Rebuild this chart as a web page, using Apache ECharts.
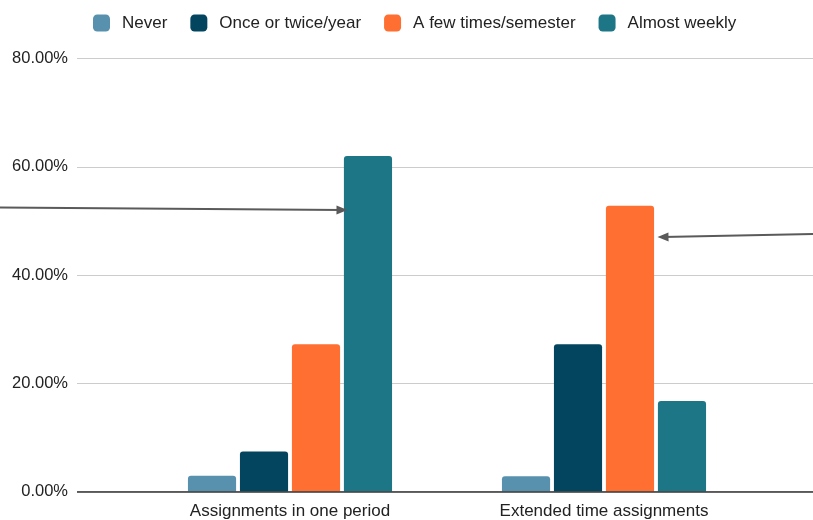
<!DOCTYPE html>
<html>
<head>
<meta charset="utf-8">
<script src="https://cdn.jsdelivr.net/npm/echarts@6/dist/echarts.min.js"></script>
<style>
  html, body { margin: 0; padding: 0; background: #fff; }
  #chart { width: 813px; height: 520px; }
</style>
</head>
<body>
<div id="chart"></div>
<script>
// Survey: how often each kind of assignment is given
const categories = ['Assignments in one period', 'Extended time assignments'];
const seriesNames = ['Never', 'Once or twice/year', 'A few times/semester', 'Almost weekly'];
const never = [2.9, 2.8];
const onceOrTwice = [7.4, 27.2];
const fewTimes = [27.2, 52.8];
const almostWeekly = [62.0, 16.7];
const yTicks = [0, 20, 40, 60, 80];

const colors = ['#5891ae', '#03455f', '#ff6f31', '#1d7685'];
const values = [never, onceOrTwice, fewTimes, almostWeekly];
const FONT = '"Liberation Sans", Arial, sans-serif';

const plotTop = 58.5;
const plotHeight = 433;

const chart = echarts.init(document.getElementById('chart'), null, { renderer: 'canvas' });

const barSeries = seriesNames.map((name, i) => ({
  name,
  type: 'bar',
  xAxisIndex: 1,
  yAxisIndex: 1,
  data: values[i],
  barGap: '8%',
  barCategoryGap: '35%',
  itemStyle: { color: colors[i], borderRadius: [3, 3, 0, 0] },
  emphasis: { disabled: true }
}));

chart.setOption({
  animation: false,
  color: colors,
  legend: {
    top: 9.5,
    left: 88,
    itemWidth: 17,
    itemHeight: 17,
    itemGap: 23,
    icon: 'roundRect',
    data: seriesNames,
    textStyle: { fontFamily: FONT, fontSize: 17, color: '#222', padding: [0, 0, 0, 7] }
  },
  grid: [
    // frame with gridlines and value labels, spanning the full width
    { left: 77, right: 0, top: plotTop, height: plotHeight },
    // bar area
    { left: 133, width: 628, top: plotTop, height: plotHeight }
  ],
  xAxis: [
    {
      gridIndex: 0, type: 'value', min: 0, max: 1,
      axisLine: { show: false }, axisTick: { show: false },
      axisLabel: { show: false }, splitLine: { show: false }
    },
    {
      gridIndex: 1, type: 'category', data: categories,
      axisLine: { show: false }, axisTick: { show: false },
      axisLabel: { fontFamily: FONT, fontSize: 17, color: '#222', margin: 11 }
    }
  ],
  yAxis: [
    {
      gridIndex: 0, type: 'value', min: yTicks[0], max: yTicks[yTicks.length - 1], interval: 20,
      axisLine: { show: false }, axisTick: { show: false },
      axisLabel: {
        fontFamily: FONT, fontSize: 16.5, color: '#222', margin: 9,
        formatter: v => v.toFixed(2) + '%'
      },
      splitLine: { lineStyle: { color: '#cccccc', width: 1 } }
    },
    {
      gridIndex: 1, type: 'value', min: yTicks[0], max: yTicks[yTicks.length - 1], interval: 20,
      axisLine: { show: false }, axisTick: { show: false },
      axisLabel: { show: false }, splitLine: { show: false }
    }
  ],
  series: [
    ...barSeries,
    {
      // baseline along zero
      type: 'line',
      xAxisIndex: 0,
      yAxisIndex: 0,
      data: [],
      silent: true,
      markLine: {
        silent: true,
        symbol: ['none', 'none'],
        label: { show: false },
        data: [
          [
            { xAxis: 0, yAxis: 0, lineStyle: { color: '#333', width: 1.5, type: 'solid' } },
            { xAxis: 1, yAxis: 0 }
          ]
        ]
      }
    },
    {
      // callout arrows pointing at the tallest bars
      type: 'line',
      xAxisIndex: 0,
      yAxisIndex: 0,
      data: [],
      silent: true,
      markLine: {
        silent: true,
        symbol: ['none', 'triangle'],
        symbolSize: [9, 11],
        label: { show: false },
        lineStyle: { color: '#5a5a5a', width: 2, type: 'solid' },
        data: [
          [{ x: 0, y: 207.5 }, { x: 342, y: 210 }],
          [{ x: 813, y: 234 }, { x: 663, y: 237 }]
        ]
      }
    }
  ]
});
</script>
</body>
</html>
